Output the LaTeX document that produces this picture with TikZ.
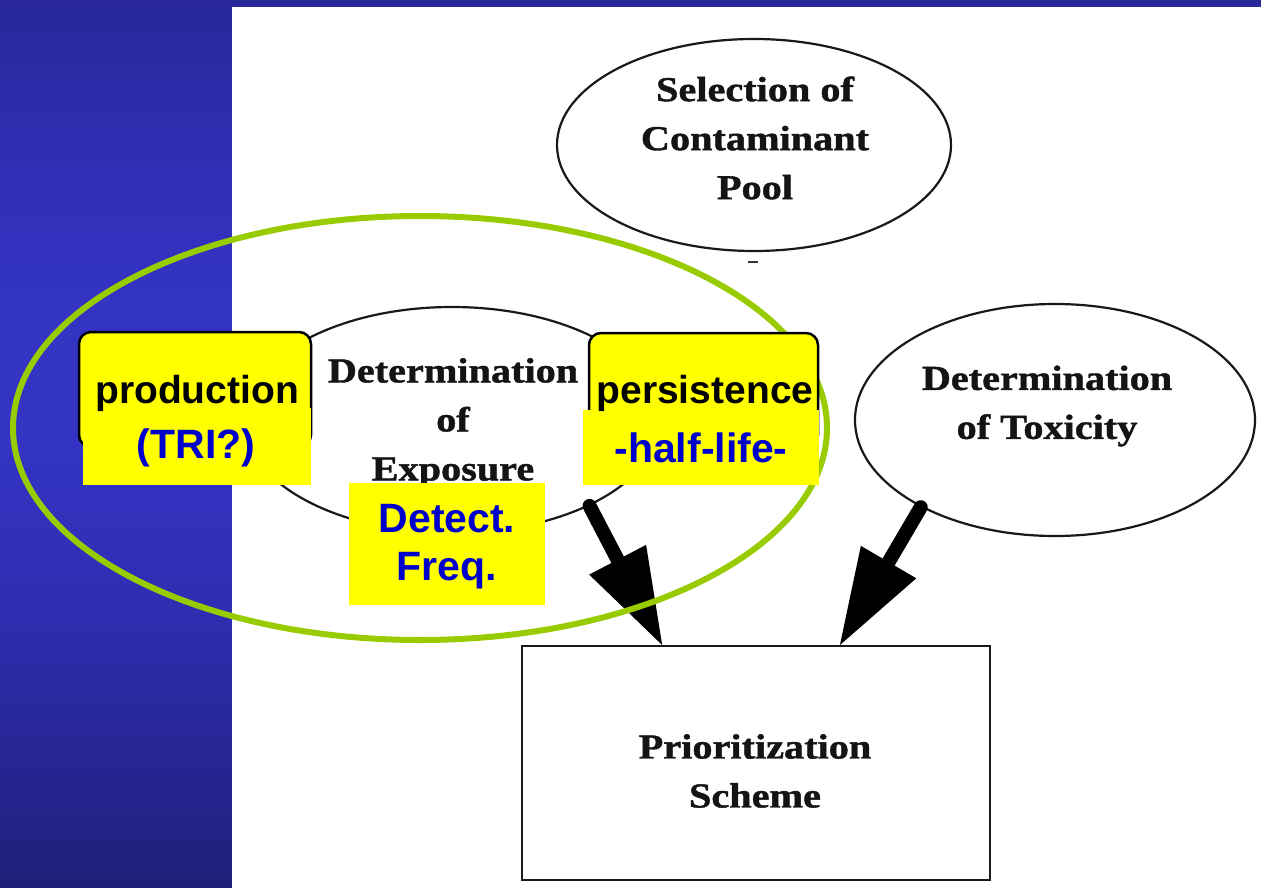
\documentclass[tikz,border=0pt]{standalone}
\usepackage{fontspec}
\setmainfont{Liberation Sans}
\newfontfamily\scanfont[FakeStretch=1.15,FakeBold=1.2]{Liberation Serif}
\usetikzlibrary{arrows.meta,shapes.geometric}
\definecolor{bgtop}{RGB}{40,40,155}
\definecolor{bgtwo}{RGB}{48,48,185}
\definecolor{bgmid}{RGB}{51,51,196}
\definecolor{bgsix}{RGB}{46,46,178}
\definecolor{bgsev}{RGB}{38,38,150}
\definecolor{bgbot}{RGB}{31,31,120}
\definecolor{lime}{RGB}{153,204,0}
\definecolor{lblue}{RGB}{0,0,204}
\definecolor{hiyel}{RGB}{255,255,0}
\pgfdeclareverticalshading{bgsh}{100bp}{color(0bp)=(bgbot); color(25bp)=(bgbot); color(32.75bp)=(bgsev); color(41bp)=(bgsix); color(49.5bp)=(bgmid); color(58bp)=(bgmid); color(64bp)=(bgtwo); color(75bp)=(bgtop); color(100bp)=(bgtop)}
\begin{document}
\begin{tikzpicture}[x=1pt,y=-1pt,
  scanshape/.style={draw=black!90, line width=2.2pt, ellipse, inner sep=0pt},
  scantext/.style={font=\scanfont\bfseries\fontsize{35}{49}\selectfont, align=center, text=black!92, inner sep=0pt},
  bigarrow/.style={draw=black, line width=14pt, line cap=round, -{Triangle[length=98pt,width=60pt]}},
  yelbord/.style={draw=black, line width=2.5pt, fill=hiyel, rounded corners=12pt},
  yelplain/.style={fill=hiyel},
  blk/.style={font=\bfseries\fontsize{39}{44}\selectfont, text=black, anchor=base, inner sep=0pt},
  blu/.style={font=\bfseries\fontsize{41}{48}\selectfont, text=lblue, anchor=base, inner sep=0pt},
  greenring/.style={draw=lime, line width=6pt}
]
\useasboundingbox (0,0) rectangle (1261,888);
% background
\shade[shading=bgsh] (0,0) rectangle (1261,888);
\fill[white] (232,7) rectangle (1261,888);

% scanned diagram
\node[scanshape, minimum width=394pt, minimum height=212pt] (sel) at (754,145) {};
\node[scantext] (selT) at (755,138) {Selection of\\Contaminant\\Pool};
\node[scanshape, minimum width=416pt, minimum height=226pt] (expo) at (452,420) {};
\node[scantext] (expoT) at (453,423) {Determination\\of\\Exposure};
\node[scanshape, minimum width=400pt, minimum height=232pt] (tox) at (1055,420) {};
\node[scantext] (toxT) at (1047,406) {Determination\\of Toxicity};
\node[draw=black!90, line width=2.8pt, minimum width=468pt, minimum height=234pt, inner sep=0pt] (box) at (756,763) {};
\node[scantext] (boxT) at (755,771) {Prioritization\\Scheme};
\draw[line width=1.5pt, black!80] (748,262) -- (758,262);

\draw[bigarrow] (expo.-32) -- ([xshift=-93pt,yshift=-2pt]box.north);
\draw[bigarrow] (tox.-147) -- ([xshift=83pt,yshift=-2pt]box.north);

% green ring
\draw[greenring] (420,428) ellipse [x radius=407pt, y radius=212pt];

% yellow labels
\path[yelbord] (79,332) rectangle (311,447);
\fill[yelplain] (83,408) rectangle (311,485);
\node[blk] (prod) at (197,403) {production};
\node[blu] (tri) at (196,458) {(TRI?)};

\path[yelbord] (589,333) rectangle (818,447);
\fill[yelplain] (583,410) rectangle (819,485);
\node[blk] (pers) at (705,403) {persistence};
\node[blu] (half) at (701,462) {-half-life-};

\fill[yelplain] (349,483) rectangle (545,605);
\node[blu] (det) at (447,532) {Detect.};
\node[blu] (freq) at (447,580) {Freq.};
\end{tikzpicture}
\end{document}
